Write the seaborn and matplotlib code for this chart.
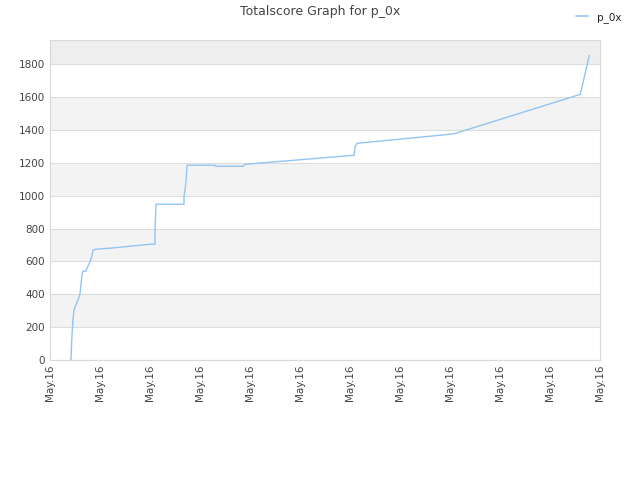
import numpy as np
import pandas as pd
import seaborn as sns
import matplotlib.pyplot as plt

# time position (tick units) and total score
time_pos = [0.42, 0.44, 0.46, 0.48, 0.52, 0.56, 0.60, 0.62, 0.64, 0.66, 0.72, 0.76,
            0.80, 0.84, 0.86, 0.92, 1.20, 1.60, 2.00, 2.10, 2.10, 2.12, 2.68, 2.68,
            2.70, 2.72, 2.74, 3.30, 3.32, 3.86, 3.90, 6.08, 6.10, 6.14, 8.00, 8.10,
            10.60, 10.78]
score = [0, 146, 243, 304, 335, 365, 401, 456, 517, 541, 541, 572,
         596, 633, 669, 675, 681, 693, 705, 705, 790, 949, 949, 998,
         1034, 1089, 1186, 1186, 1180, 1180, 1192, 1247, 1302, 1320, 1375, 1380,
         1618, 1855]
tick_labels = ["May.16"] * 12
player = "p_0x"

df = pd.DataFrame({"t": time_pos, "score": score, "player": player})

sns.set_style("white")
plt.rcParams['font.family'] = ['DejaVu Sans']

fig = plt.figure(figsize=(6.4, 4.8), dpi=100)
ax = fig.add_axes([0.078, 0.25, 0.86, 0.667])

ymax = 1950
for lo in range(0, 2000, 200):
    if (lo // 200) % 2 == 1:
        color = "#eeeeee" if lo >= 1800 else "#f3f3f3"
        ax.axhspan(lo, min(lo + 200, ymax), color=color, zorder=0, lw=0)
    ax.axhline(lo, color="#dddddd", lw=0.8, zorder=1)

sns.lineplot(data=df, x="t", y="score", hue="player", palette=["#92c4f4"],
             lw=1.0, ax=ax, legend=False, zorder=3, estimator=None, sort=False)

ax.set_xlim(0, 11)
ax.set_ylim(0, ymax)
ax.set_xticks(range(12))
ax.set_xticklabels(tick_labels, rotation=90, fontsize=7.5, color="#444444")
ax.set_yticks(range(0, 1900, 200))
ax.tick_params(axis="y", labelsize=7.5, colors="#444444", length=0)
ax.tick_params(axis="x", length=0)
ax.set_xlabel("")
ax.set_ylabel("")
for s in ax.spines.values():
    s.set_color("#d8d8d8")
    s.set_linewidth(0.8)

fig.text(0.5, 0.975, "Totalscore Graph for p_0x", ha="center", va="center",
         fontsize=9, color="#444444")
fig.legend(handles=[plt.Line2D([], [], color="#92c4f4", lw=1.2)], labels=[player],
           loc="upper right", bbox_to_anchor=(0.985, 0.995), frameon=False,
           fontsize=7.5, handlelength=1.2)

fig.savefig("out.png", dpi=100)
